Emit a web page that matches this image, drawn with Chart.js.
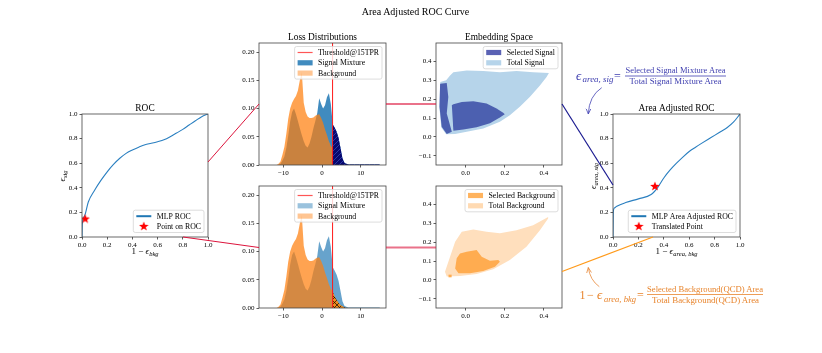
<!DOCTYPE html>
<html>
<head>
<meta charset="utf-8">
<script src="https://cdn.jsdelivr.net/npm/chart.js@4.4.0/dist/chart.umd.min.js"></script>
<style>
  body { margin: 0; background: #fff; }
  #fig { position: relative; width: 822px; height: 353px; overflow: hidden; background: #fff; }
  .panel { position: absolute; }
  #overlay { position: absolute; left: 0; top: 0; z-index: 2; pointer-events: none;
             font-family: 'Liberation Serif', 'DejaVu Serif', serif; }
</style>
</head>
<body>
<div id="fig">
<svg id="overlay" width="822" height="353">
  <defs>
    <marker id="headBlue" viewBox="0 0 10 10" refX="9" refY="5" markerWidth="6" markerHeight="6" orient="auto" markerUnits="userSpaceOnUse">
      <path d="M0,1 L9,5 L0,9" fill="none" stroke="#4444b4" stroke-width="1.3"/>
    </marker>
    <marker id="headOrange" viewBox="0 0 10 10" refX="9" refY="5" markerWidth="6" markerHeight="6" orient="auto" markerUnits="userSpaceOnUse">
      <path d="M0,1 L9,5 L0,9" fill="none" stroke="#e8893a" stroke-width="1.3"/>
    </marker>
  </defs>

  <!-- figure title -->
  <text x="415.5" y="15" text-anchor="middle" font-size="10">Area Adjusted ROC Curve</text>

  <!-- connectors between panels -->
  <line x1="208" y1="162" x2="259" y2="104" stroke="#dc143c" stroke-width="1"/>
  <line x1="183" y1="237" x2="259" y2="247.5" stroke="#dc143c" stroke-width="1"/>
  <line x1="386" y1="104" x2="436" y2="104" stroke="rgba(220,20,60,0.6)" stroke-width="2"/>
  <line x1="386" y1="247.5" x2="436" y2="247.5" stroke="rgba(220,20,60,0.6)" stroke-width="2"/>
  <line x1="562" y1="104" x2="613" y2="185" stroke="#1a1a90" stroke-width="1.2"/>
  <line x1="562" y1="271.5" x2="653" y2="237" stroke="#ff9a1a" stroke-width="1.2"/>

  <!-- axis labels -->
  <text x="145" y="254" text-anchor="middle" font-size="9">1 − <tspan font-style="italic">ϵ</tspan><tspan font-style="italic" font-size="6.5" dy="2">bkg</tspan></text>
  <text transform="translate(65,176) rotate(-90)" text-anchor="middle" font-size="9"><tspan font-style="italic">ϵ</tspan><tspan font-style="italic" font-size="6.5" dy="2">sig</tspan></text>
  <text x="676.5" y="253.5" text-anchor="middle" font-size="9">1 − <tspan font-style="italic">ϵ</tspan><tspan font-style="italic" font-size="6.5" dy="2">area, bkg</tspan></text>
  <text transform="translate(596,176) rotate(-90)" text-anchor="middle" font-size="9"><tspan font-style="italic">ϵ</tspan><tspan font-style="italic" font-size="6.5" dy="2">area, sig</tspan></text>

  <!-- signal area formula -->
  <g fill="#4040b0">
    <text x="576" y="79.5" font-size="13" font-style="italic">ϵ</text>
    <text x="582.5" y="82" font-size="9" font-style="italic" textLength="31" lengthAdjust="spacingAndGlyphs">area, sig</text>
    <text x="614" y="80" font-size="12">=</text>
    <text x="675.5" y="73" font-size="8.5" text-anchor="middle" textLength="100" lengthAdjust="spacingAndGlyphs">Selected Signal Mixture Area</text>
    <text x="675.5" y="84" font-size="8.5" text-anchor="middle" textLength="92" lengthAdjust="spacingAndGlyphs">Total Signal Mixture Area</text>
  </g>
  <line x1="625" y1="76" x2="726" y2="76" stroke="#4040b0" stroke-width="0.8"/>
  <path d="M601.7,87.7 Q589,96 588.3,114" fill="none" stroke="#4444b4" stroke-width="0.8" marker-end="url(#headBlue)"/>

  <!-- background area formula -->
  <g fill="#e8842c">
    <text x="579.5" y="298.5" font-size="12">1</text>
    <text x="587" y="298.5" font-size="12">−</text>
    <text x="597" y="298.5" font-size="13" font-style="italic">ϵ</text>
    <text x="604" y="301.5" font-size="9" font-style="italic" textLength="32" lengthAdjust="spacingAndGlyphs">area, bkg</text>
    <text x="637" y="299" font-size="12">=</text>
    <text x="705" y="292" font-size="8.5" text-anchor="middle" textLength="116" lengthAdjust="spacingAndGlyphs">Selected Background(QCD) Area</text>
    <text x="705.5" y="303" font-size="8.5" text-anchor="middle" textLength="107" lengthAdjust="spacingAndGlyphs">Total Background(QCD) Area</text>
  </g>
  <line x1="647" y1="294.5" x2="763" y2="294.5" stroke="#e8842c" stroke-width="0.8"/>
  <path d="M599.3,286.7 Q590,280 588.3,267.5" fill="none" stroke="#e8893a" stroke-width="0.8" marker-end="url(#headOrange)"/>
</svg>
</div>

<script>
// ---- ROC curves ----
const rocX = [0, 0.002, 0.02, 0.05, 0.1, 0.15, 0.2, 0.25, 0.3, 0.35, 0.4, 0.45, 0.5, 0.55, 0.6, 0.65, 0.7, 0.75, 0.8, 0.85, 0.9, 0.95, 1.0];
const rocY = [0, 0.1, 0.17, 0.285, 0.38, 0.46, 0.53, 0.59, 0.64, 0.68, 0.707, 0.73, 0.75, 0.762, 0.775, 0.79, 0.815, 0.845, 0.875, 0.91, 0.945, 0.978, 1.0];
const rocPoint = [0.025, 0.15];

const areaRocX = [0, 0.002, 0.01, 0.03, 0.1, 0.2, 0.3, 0.35, 0.4, 0.45, 0.5, 0.55, 0.6, 0.65, 0.7, 0.75, 0.8, 0.85, 0.9, 0.95, 1.0];
const areaRocY = [0, 0.2, 0.235, 0.25, 0.28, 0.31, 0.345, 0.4, 0.48, 0.545, 0.6, 0.65, 0.695, 0.73, 0.763, 0.795, 0.826, 0.858, 0.89, 0.935, 1.0];
const areaRocPoint = [0.33, 0.415];

// ---- loss histograms (bins of 0.5 from -12) ----
const lossBinStart = -12;
const lossBinWidth = 0.5;
const signalMixture = [0, 0, 0.002, 0.008, 0.015, 0.03, 0.052, 0.077, 0.094, 0.1, 0.09, 0.078, 0.065, 0.053,
  0.042, 0.034, 0.031, 0.038, 0.05, 0.065, 0.078, 0.092, 0.118, 0.108, 0.1, 0.106, 0.12, 0.127, 0.108, 0.072,
  0.066, 0.059, 0.048, 0.03, 0.012, 0.004, 0.002, 0.001, 0.001, 0.001, 0.001, 0.001, 0.001, 0.001, 0.001,
  0.001, 0.001, 0.001, 0.001, 0.001, 0.001, 0.001, 0.001, 0.001];
const background = [0, 0.002, 0.006, 0.018, 0.032, 0.055, 0.082, 0.1, 0.11, 0.117, 0.122, 0.132, 0.15, 0.165,
  0.11, 0.094, 0.086, 0.083, 0.083, 0.084, 0.087, 0.089, 0.09, 0.083, 0.075, 0.063, 0.053, 0.042, 0.034, 0.029,
  0.02, 0.014, 0.009, 0.005, 0.003, 0.001, 0, 0, 0, 0, 0, 0, 0, 0, 0, 0, 0, 0, 0, 0, 0, 0, 0, 0];
const threshold = 2.7;

// ---- embedding space regions (outline vertices) ----
const totalSignalX = [-0.08, -0.063, 0.005, 0.09, 0.175, 0.26, 0.345, 0.426, 0.414, 0.38, 0.328, 0.277, 0.226, 0.175, 0.09, 0.005, -0.054, -0.1, -0.125, -0.135, -0.13, -0.1];
const totalSignalY = [0.325, 0.342, 0.351, 0.348, 0.342, 0.348, 0.342, 0.337, 0.316, 0.272, 0.211, 0.159, 0.115, 0.08, 0.045, 0.028, 0.016, 0.014, 0.05, 0.16, 0.29, 0.3];
const selectedSignalX = [-0.071, -0.063, -0.02, 0.039, 0.107, 0.158, 0.192, 0.2, 0.175, 0.124, 0.056, -0.012, -0.063];
const selectedSignalY = [0.168, 0.173, 0.185, 0.189, 0.176, 0.15, 0.128, 0.12, 0.103, 0.072, 0.051, 0.04, 0.033];
const selectedStreakX = [-0.131, -0.097, -0.089, -0.097, -0.083, -0.071, -0.097, -0.123, -0.134];
const selectedStreakY = [0.281, 0.285, 0.211, 0.124, 0.072, 0.028, 0.016, 0.054, 0.159];

const totalBkgX = [0.422, 0.345, 0.26, 0.175, 0.107, 0.039, -0.02, -0.054, -0.08, -0.106, -0.097, -0.029, 0.056, 0.141, 0.226, 0.311, 0.38, 0.422];
const totalBkgY = [0.333, 0.289, 0.263, 0.246, 0.254, 0.267, 0.254, 0.202, 0.123, 0.044, 0.018, 0.021, 0.032, 0.056, 0.105, 0.175, 0.263, 0.325];
const selectedBkgX = [-0.054, -0.046, -0.029, 0.005, 0.056, 0.082, 0.124, 0.167, 0.175, 0.15, 0.09, 0.022, -0.037];
const selectedBkgY = [0.061, 0.114, 0.14, 0.149, 0.158, 0.123, 0.102, 0.105, 0.096, 0.07, 0.047, 0.035, 0.035];
const selectedBkgDotX = [-0.088, -0.072, -0.072, -0.088];
const selectedBkgDotY = [0.014, 0.014, 0.028, 0.028];

// ---- ticks ----
const unitTicks = [0, 0.2, 0.4, 0.6, 0.8, 1.0];
const lossXTicks = [-10, 0, 10];
const lossYTicks = [0, 0.05, 0.1, 0.15, 0.2];
const embXTicks = [0, 0.2, 0.4];
const embYTicks = [-0.1, 0, 0.1, 0.2, 0.3, 0.4];

Chart.defaults.font.family = "'Liberation Serif', 'DejaVu Serif', serif";
Chart.defaults.color = '#000';

const PADL = 32, PADT = 16, PADR = 14, PADB = 16;
const fig = document.getElementById('fig');
const overlay = document.getElementById('overlay');

function makeCanvas(x, y, w, h) {
    const c = document.createElement('canvas');
    c.width = w + PADL + PADR;
    c.height = h + PADT + PADB;
    c.className = 'panel';
    c.style.left = (x - PADL) + 'px';
    c.style.top = (y - PADT) + 'px';
    fig.insertBefore(c, overlay);
    return c;
}

const minus = s => s.replace('-', '\u2212');
const fmt1 = v => minus(v.toFixed(1));
const fmt2 = v => v.toFixed(2);
const fmtInt = v => minus(String(v));

function axis(min, max, ticks, fmt, isX) {
    return {
        type: 'linear', min, max,
        afterBuildTicks: s => { s.ticks = ticks.map(v => ({ value: v })); },
        afterFit: s => { if (isX) s.height = PADB; else s.width = PADL; },
        ticks: { callback: fmt, color: '#000', font: { size: 7 }, padding: isX ? 1 : 2, maxRotation: 0, autoSkip: false },
        grid: { drawOnChartArea: false, tickLength: 2.5, tickColor: '#333', tickWidth: 0.8 },
        border: { display: false }
    };
}

function starImage(size, color) {
    const c = document.createElement('canvas');
    c.width = c.height = size;
    const g = c.getContext('2d');
    const r = size / 2, ri = r * 0.42;
    g.beginPath();
    for (let i = 0; i < 10; i++) {
        const rr = i % 2 ? ri : r;
        const a = -Math.PI / 2 + i * Math.PI / 5;
        g.lineTo(r + rr * Math.cos(a), r * 1.1 + rr * Math.sin(a));
    }
    g.closePath();
    g.fillStyle = color;
    g.fill();
    return c;
}
const star = starImage(10, '#ff0000');

function hatch(bg, fg, both) {
    const t = document.createElement('canvas');
    t.width = t.height = 5;
    const g = t.getContext('2d');
    g.fillStyle = bg;
    g.fillRect(0, 0, 5, 5);
    g.strokeStyle = fg;
    g.lineWidth = 0.8;
    g.beginPath();
    g.moveTo(-1, 6); g.lineTo(6, -1);
    if (both) { g.moveTo(-1, -1); g.lineTo(6, 6); }
    g.stroke();
    return g.createPattern(t, 'repeat');
}

// decorations drawn like matplotlib: full frame, title, legend box
const decorPlugin = {
    id: 'decor',
    afterDraw(chart, args, opts) {
        const ctx = chart.ctx, a = chart.chartArea;
        ctx.save();
        ctx.strokeStyle = '#444';
        ctx.lineWidth = 0.8;
        ctx.strokeRect(a.left, a.top, a.right - a.left, a.bottom - a.top);

        ctx.fillStyle = '#000';
        ctx.font = "9.4px 'Liberation Serif', serif";
        ctx.textAlign = 'center';
        ctx.textBaseline = 'alphabetic';
        ctx.fillText(opts.title, (a.left + a.right) / 2, a.top - 3);

        const lg = opts.legend;
        if (lg) {
            ctx.font = "7.8px 'Liberation Serif', serif";
            const tw = Math.max(...lg.items.map(i => ctx.measureText(i.label).width));
            const pad = 3, hl = 15, gap = 5.5, rowH = 10.3;
            const w = pad + hl + gap + tw + pad;
            const h = 12 + rowH * (lg.items.length - 1);
            const bx = a.right - 4 - w;
            const by = lg.corner === 'ur' ? a.top + 3.5 : a.bottom - 4.5 - h;
            ctx.beginPath();
            ctx.roundRect(bx, by, w, h, 2);
            ctx.fillStyle = 'rgba(255,255,255,0.8)';
            ctx.fill();
            ctx.strokeStyle = '#d4d4d4';
            ctx.lineWidth = 0.8;
            ctx.stroke();
            lg.items.forEach((it, i) => {
                const y = by + 6 + i * rowH;
                const x0 = bx + pad;
                if (it.type === 'line') {
                    ctx.strokeStyle = it.color;
                    ctx.lineWidth = it.width || 2;
                    ctx.beginPath();
                    ctx.moveTo(x0, y); ctx.lineTo(x0 + hl, y);
                    ctx.stroke();
                } else if (it.type === 'star') {
                    ctx.drawImage(star, x0 + hl / 2 - 5, y - 5.5);
                } else {
                    ctx.fillStyle = it.color;
                    ctx.fillRect(x0, y - 2.6, hl, 5.2);
                }
                ctx.fillStyle = '#000';
                ctx.textAlign = 'left';
                ctx.textBaseline = 'middle';
                ctx.fillText(it.label, x0 + hl + gap, y + 0.5);
            });
        }
        ctx.restore();
    }
};

function makeChart(rect, datasets, xScale, yScale, decor) {
    const c = makeCanvas(...rect);
    return new Chart(c, {
        type: 'line',
        data: { datasets },
        options: {
            responsive: false,
            animation: false,
            layout: { padding: { left: 0, top: PADT, right: PADR, bottom: 0 }, autoPadding: false },
            scales: { x: xScale, y: yScale },
            elements: { point: { radius: 0 }, line: { tension: 0 } },
            plugins: { legend: { display: false }, tooltip: { enabled: false }, decor }
        },
        plugins: [decorPlugin]
    });
}

const zip = (xs, ys) => xs.map((x, i) => ({ x, y: ys[i] }));

// histogram outline through the bin centres, closed on the baseline
function histOutline(vals, from) {
    const pts = [];
    let xEnd = lossBinStart;
    vals.forEach((v, i) => {
        const x0 = lossBinStart + i * lossBinWidth;
        xEnd = x0 + lossBinWidth;
        if (from !== undefined && xEnd <= from) return;
        if (!pts.length) {
            const xs = from !== undefined ? Math.max(x0, from) : x0;
            pts.push({ x: xs, y: 0 }, { x: xs, y: v });
        }
        pts.push({ x: x0 + lossBinWidth / 2, y: v });
    });
    pts.push({ x: xEnd, y: 0 });
    return pts;
}

function area(data, color, order) {
    return { data, fill: 'shape', backgroundColor: color, borderColor: 'rgba(0,0,0,0)', borderWidth: 0, pointRadius: 0, order };
}
function shape(xs, ys, color, order) {
    return area(zip(xs, ys), color, order);
}

// ---- ROC ----
makeChart([82, 114, 126, 123], [
    { data: zip([rocPoint[0]], [rocPoint[1]]), showLine: false, pointStyle: star, pointRadius: 5, order: 0 },
    { data: zip(rocX, rocY), borderColor: '#2a7fc0', borderWidth: 1.1, cubicInterpolationMode: 'monotone', order: 1 }
], axis(0, 1, unitTicks, fmt1, true), axis(0, 1, unitTicks, fmt1, false), {
    title: 'ROC',
    legend: { corner: 'lr', items: [
        { type: 'line', color: '#1f77b4', label: 'MLP ROC' },
        { type: 'star', label: 'Point on ROC' }
    ] }
});

// ---- Loss distributions ----
const lossYMax = 0.216;
function lossPanel(rect, sigColor, sigLegend, selected) {
    makeChart(rect, [
        { data: zip([threshold, threshold], [0, lossYMax]), borderColor: '#ff1a1a', borderWidth: 1, order: 0 },
        area(selected.data, selected.fill, 1),
        area(histOutline(background), 'rgba(255,127,14,0.72)', 2),
        area(histOutline(signalMixture), sigColor, 3)
    ], axis(-16.3, 16.5, lossXTicks, fmtInt, true), axis(0, lossYMax, lossYTicks, fmt2, false), {
        title: rect[1] < 100 ? 'Loss Distributions' : '',
        legend: { corner: 'ur', items: [
            { type: 'line', color: 'rgba(255,30,30,0.75)', width: 1.2, label: 'Threshold@15TPR' },
            { type: 'patch', color: sigLegend, label: 'Signal Mixture' },
            { type: 'patch', color: 'rgba(255,127,14,0.45)', label: 'Background' }
        ] }
    });
}
lossPanel([259, 43, 127, 122], 'rgba(31,119,180,0.85)', 'rgba(31,119,180,0.85)',
    { data: histOutline(signalMixture, threshold), fill: hatch('#07076e', '#3646b4', false) });
lossPanel([259, 186, 127, 122], 'rgba(31,119,180,0.68)', 'rgba(31,119,180,0.45)',
    { data: histOutline(background, threshold), fill: hatch('#ee8a1c', 'rgba(0,0,0,0.85)', true) });

// ---- Embedding space ----
makeChart([436, 43, 126, 122], [
    shape(selectedSignalX, selectedSignalY, '#4c60b0', 0),
    shape(selectedStreakX, selectedStreakY, '#4c60b0', 0),
    shape(totalSignalX, totalSignalY, '#b6d4ea', 1)
], axis(-0.152, 0.493, embXTicks, fmt1, true), axis(-0.148, 0.496, embYTicks, fmt1, false), {
    title: 'Embedding Space',
    legend: { corner: 'ur', items: [
        { type: 'patch', color: '#5a62b4', label: 'Selected Signal' },
        { type: 'patch', color: '#b6d4ea', label: 'Total Signal' }
    ] }
});

makeChart([436, 186, 126, 122], [
    shape(selectedBkgX, selectedBkgY, '#ffac50', 0),
    shape(selectedBkgDotX, selectedBkgDotY, '#ffac50', 0),
    shape(totalBkgX, totalBkgY, '#ffdfbd', 1)
], axis(-0.152, 0.493, embXTicks, fmt1, true), axis(-0.148, 0.496, embYTicks, fmt1, false), {
    title: '',
    legend: { corner: 'ur', items: [
        { type: 'patch', color: '#ffb35e', label: 'Selected Background' },
        { type: 'patch', color: '#ffdab2', label: 'Total Background' }
    ] }
});

// ---- Area adjusted ROC ----
makeChart([613, 114, 127, 123], [
    { data: zip([areaRocPoint[0]], [areaRocPoint[1]]), showLine: false, pointStyle: star, pointRadius: 5, order: 0 },
    { data: zip(areaRocX, areaRocY), borderColor: '#2a7fc0', borderWidth: 1.1, cubicInterpolationMode: 'monotone', order: 1 }
], axis(0, 1, unitTicks, fmt1, true), axis(0, 1, unitTicks, fmt1, false), {
    title: 'Area Adjusted ROC',
    legend: { corner: 'lr', items: [
        { type: 'line', color: '#1f77b4', label: 'MLP Area Adjusted ROC' },
        { type: 'star', label: 'Translated Point' }
    ] }
});
</script>
</body>
</html>
